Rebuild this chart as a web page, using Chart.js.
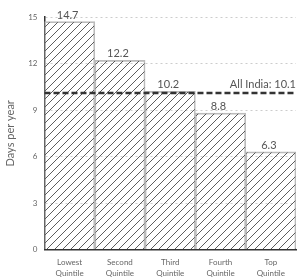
<!DOCTYPE html>
<html>
<head>
<meta charset="utf-8">
<script src="https://cdn.jsdelivr.net/npm/chart.js@4"></script>
<style>
  body { margin: 0; background: #fff; }
  #wrap { width: 305px; height: 280px; }
</style>
</head>
<body>
<div id="wrap"><canvas id="c" width="305" height="280"></canvas></div>
<script>
// data
const categories = [["Lowest", "Quintile"], ["Second", "Quintile"], ["Third", "Quintile"], ["Fourth", "Quintile"], ["Top", "Quintile"]];
const daysPerYear = [14.7, 12.2, 10.2, 8.8, 6.3];
const allIndia = 10.1;
const allIndiaLabel = "All India: 10.1";
const yTicks = [0, 3, 6, 9, 12, 15];

// hatch pattern for bars
function makeHatch() {
    const p = document.createElement("canvas");
    p.width = 8; p.height = 8;
    const g = p.getContext("2d");
    g.strokeStyle = "#333";
    g.lineWidth = 0.8;
    g.beginPath();
    g.moveTo(0, 8); g.lineTo(8, 0);
    g.moveTo(-4, 4); g.lineTo(4, -4);
    g.moveTo(4, 12); g.lineTo(12, 4);
    g.stroke();
    return g.createPattern(p, "repeat");
}

const fontFam = "Lato, 'Open Sans', sans-serif";

// labels above bars + the all india dashed line
const extras = {
    id: "extras",
    afterDatasetsDraw(chart) {
        const ctx = chart.ctx;
        const y = chart.scales.y;
        const area = chart.chartArea;
        const meta = chart.getDatasetMeta(0);
        ctx.save();
        ctx.fillStyle = "#555";
        ctx.font = "11px " + fontFam;
        ctx.textAlign = "center";
        ctx.textBaseline = "bottom";
        meta.data.forEach((bar, i) => {
            ctx.fillText(daysPerYear[i].toFixed(1), bar.x - 2, bar.y - 1);
        });

        const ly = y.getPixelForValue(allIndia);
        ctx.strokeStyle = "#333";
        ctx.lineWidth = 2.5;
        ctx.setLineDash([6, 3]);
        ctx.beginPath();
        ctx.moveTo(area.left, ly);
        ctx.lineTo(area.right, ly);
        ctx.stroke();
        ctx.setLineDash([]);
        ctx.textAlign = "right";
        ctx.fillText(allIndiaLabel, area.right, ly - 3);
        ctx.restore();
    }
};

new Chart(document.getElementById("c"), {
    type: "bar",
    data: {
        labels: categories,
        datasets: [{
            data: daysPerYear,
            backgroundColor: makeHatch(),
            borderColor: "#bbb",
            borderWidth: 1,
            categoryPercentage: 1,
            barPercentage: 1
        }]
    },
    plugins: [extras],
    options: {
        responsive: false,
        animation: false,
        layout: { padding: { left: 0, right: 9, top: 17, bottom: 2 } },
        plugins: { legend: { display: false }, tooltip: { enabled: false } },
        scales: {
            x: {
                grid: { display: false },
                border: { color: "#333", width: 1.5 },
                ticks: { color: "#666", font: { size: 8, family: fontFam, lineHeight: 1.4 }, padding: -1 }
            },
            y: {
                min: 0, max: 15,
                afterBuildTicks(s) { s.ticks = yTicks.map(v => ({ value: v })); },
                grid: { color: "#ccc", drawTicks: false },
                border: { color: "#333", width: 1.5, dash: [2, 3] },
                ticks: { color: "#666", font: { size: 8, family: fontFam }, padding: 7 },
                title: { display: true, text: "Days per year", color: "#666", font: { size: 11, family: fontFam } }
            }
        }
    }
});
</script>
</body>
</html>
